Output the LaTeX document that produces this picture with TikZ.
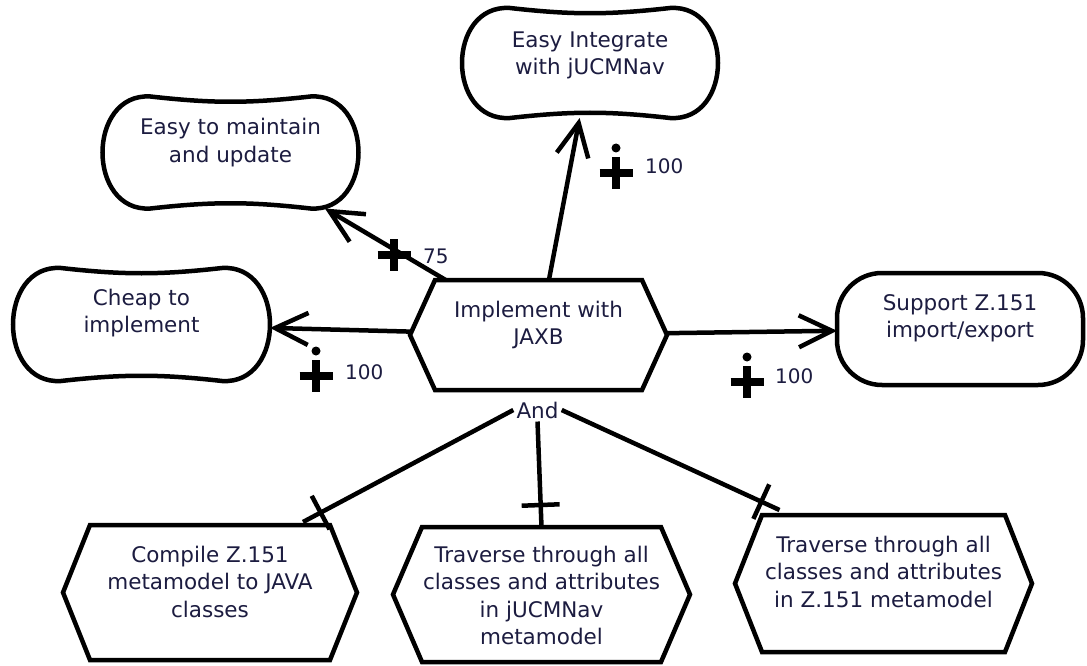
\documentclass[tikz,border=0pt]{standalone}
\usepackage{fontspec}
\setmainfont{DejaVu Sans}
\usetikzlibrary{arrows.meta,decorations.markings}
\definecolor{labelink}{RGB}{28,28,64}

% hexagonal task outline around a named node; #2 = depth of the side points
\newcommand\hexoutline[2]{%
  \draw[outline] (#1.west) -- ([xshift=#2]#1.north west) -- ([xshift=-#2]#1.north east)
    -- (#1.east) -- ([xshift=-#2]#1.south east) -- ([xshift=#2]#1.south west) -- cycle;}

% pinched cloud outline of a softgoal around a named node
\newcommand\softoutline[1]{%
  \draw[outline] ([xshift=48pt]#1.north west)
    .. controls ([xshift=110pt,yshift=-7pt]#1.north west) and ([xshift=-110pt,yshift=-7pt]#1.north east) .. ([xshift=-48pt]#1.north east)
    .. controls ([xshift=16pt,yshift=4pt]#1.north east) and ([xshift=16pt,yshift=-4pt]#1.south east) .. ([xshift=-48pt]#1.south east)
    .. controls ([xshift=-110pt,yshift=7pt]#1.south east) and ([xshift=110pt,yshift=7pt]#1.south west) .. ([xshift=48pt]#1.south west)
    .. controls ([xshift=-16pt,yshift=-4pt]#1.south west) and ([xshift=-16pt,yshift=4pt]#1.north west) .. cycle;}

\begin{document}
\begin{tikzpicture}[x=1pt,y=-1pt,
  outline/.style={line width=4.5pt, line join=miter},
  box/.style={inner sep=0pt, outer sep=0pt},
  txt/.style={inner sep=0pt, align=center, anchor=north, text=labelink,
    font=\fontsize{21.5pt}{27.5pt}\selectfont},
  num/.style={inner sep=0pt, anchor=base west, text=labelink,
    font=\fontsize{20pt}{24pt}\selectfont},
  contrib/.style={line width=4.5pt, -{Straight Barb[length=33pt,width=32pt]}},
  decomp/.style={line width=4.5pt, postaction={decorate},
    decoration={markings, mark=at position #1 with
      {\draw[line width=4.5pt] (0pt,-19pt) -- (0pt,19pt);}}},
  plusmark/.pic={\draw[line width=8.5pt] (-16.5,0) -- (16.5,0) (0,-16) -- (0,16);},
  plusdot/.pic={\draw[line width=8.5pt] (-16.5,0) -- (16.5,0) (0,-16) -- (0,16);
    \fill (0,-25) circle (4.5pt);}
]
\useasboundingbox (0,0) rectangle (1087,666);
\fill[white] (0,0) rectangle (1087,666);

% ---- tasks ----
\node[box, minimum width=257pt, minimum height=110pt] (jaxb) at (538.5,335) {};
\hexoutline{jaxb}{25pt}
\node[txt] (jaxbtxt) at ([yshift=-18pt]jaxb.north) {\strut Implement with\\JAXB};

\node[box, minimum width=294pt, minimum height=135pt] (cz) at (210,592.5) {};
\hexoutline{cz}{27pt}
\node[txt] (cztxt) at ([yshift=-18pt]cz.north) {\strut Compile Z.151\\metamodel to JAVA\\classes};

\node[box, minimum width=297pt, minimum height=135pt] (mz) at (541.5,594.5) {};
\hexoutline{mz}{29pt}
\node[txt] (mztxt) at ([yshift=-16pt]mz.north) {\strut Traverse through all\\classes and attributes\\in jUCMNav\\metamodel};

\node[box, minimum width=297pt, minimum height=137pt] (rz) at (883.5,583.5) {};
\hexoutline{rz}{27pt}
\node[txt] (rztxt) at ([yshift=-18pt]rz.north) {\strut Traverse through all\\classes and attributes\\in Z.151 metamodel};

% ---- softgoals ----
\node[box, minimum width=256pt, minimum height=112pt] (maint) at (230.5,152.5) {};
\softoutline{maint}
\node[txt] (mainttxt) at ([yshift=-19pt]maint.north) {\strut Easy to maintain\\and update};

\node[box, minimum width=256pt, minimum height=110pt] (integ) at (590,63) {};
\softoutline{integ}
\node[txt] (integtxt) at ([yshift=-20pt]integ.north) {\strut Easy Integrate\\with jUCMNav};

\node[box, minimum width=257pt, minimum height=113pt] (cheap) at (141.5,324.5) {};
\softoutline{cheap}
\node[txt] (cheaptxt) at ([yshift=-18pt]cheap.north) {\strut Cheap to\\implement};

% ---- goal ----
\node[box, minimum width=246pt, minimum height=112pt] (supp) at (960,329) {};
\draw[outline, rounded corners=45pt] (supp.north west) rectangle (supp.south east);
\node[txt] (supptxt) at ([yshift=-18pt]supp.north) {\strut Support Z.151\\import/export};

% ---- contributions ----
\draw[contrib] (jaxb) -- (integ);
\draw[contrib] (jaxb) -- (maint);
\draw[contrib] (jaxb) -- (cheap);
\draw[contrib] (jaxb) -- (supp);

\pic at (616,173) {plusdot};
\node[num] (winteg) at (645,173) {100};
\pic at (394,255) {plusmark};
\node[num] (wmaint) at (423,263) {75};
\pic at (316,376) {plusdot};
\node[num] (wcheap) at (345,379) {100};
\pic at (747,382) {plusdot};
\node[num] (wsupp) at (775,383) {100};

% ---- AND decomposition ----
\node[inner sep=3pt, text=labelink, font=\fontsize{21.5pt}{27.5pt}\selectfont] (andlbl) at (537.5,410) {And};
\draw[decomp=-20pt] (andlbl.west) -- ([xshift=93pt,yshift=3pt]cz.north);
\draw[decomp=-22pt] (andlbl.south) -- (mz.north);
\draw[decomp=-20pt] (andlbl.east) -- ([xshift=-104pt,yshift=5pt]rz.north);
\end{tikzpicture}
\end{document}
